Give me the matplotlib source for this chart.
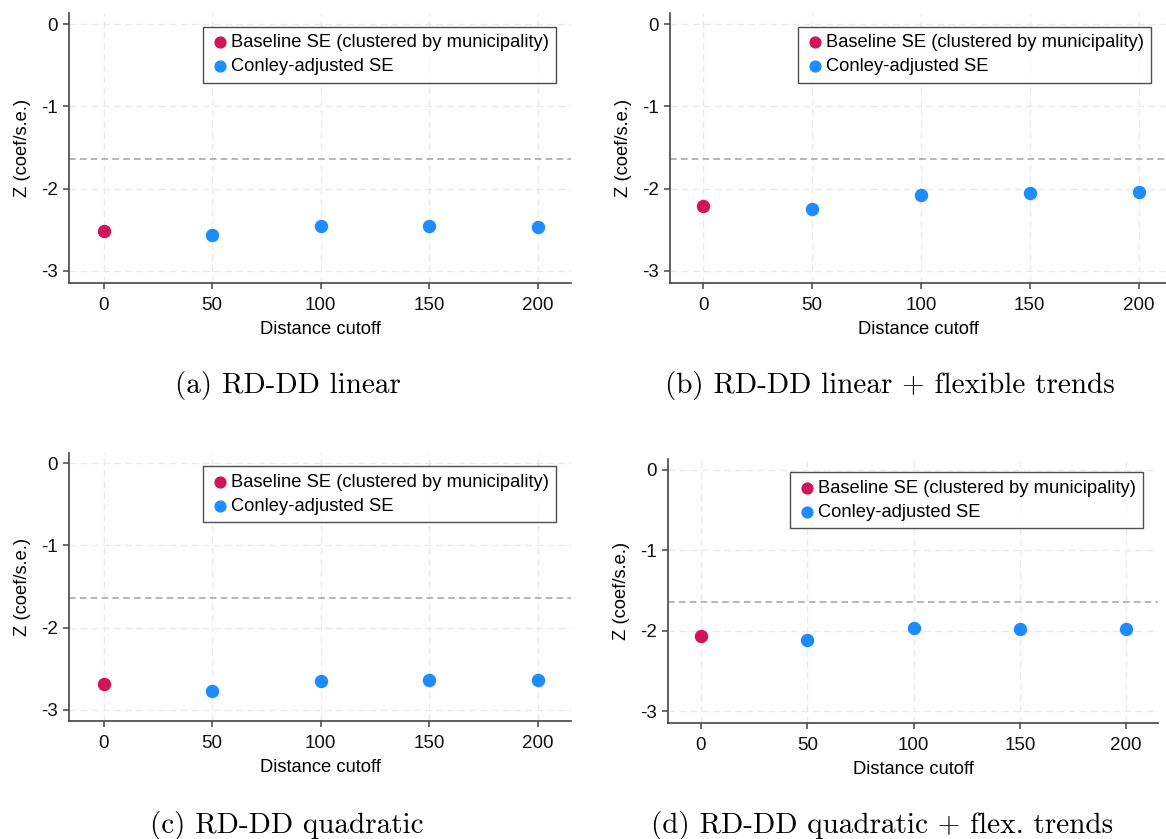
import numpy as np
import matplotlib.pyplot as plt

plt.rcParams['font.family'] = ['Liberation Sans', 'DejaVu Sans']

# distance cutoffs (0 = baseline clustered SE)
cutoffs = [0, 50, 100, 150, 200]

# z statistics
z_linear = [-2.51, -2.56, -2.45, -2.45, -2.46]
z_linear_flex = [-2.21, -2.25, -2.08, -2.05, -2.04]
z_quad = [-2.69, -2.77, -2.655, -2.64, -2.64]
z_quad_flex = [-2.07, -2.11, -1.97, -1.98, -1.98]

captions = ['(a) RD-DD linear',
            '(b) RD-DD linear + flexible trends',
            '(c) RD-DD quadratic',
            '(d) RD-DD quadratic + flex. trends']
series = [z_linear, z_linear_flex, z_quad, z_quad_flex]

W, H = 1166, 839
# panel boxes in pixels: left, right, top, bottom, xlim, ylim
panels = [
    (69, 571, 13, 283, (-15.9, 215.4), (-3.146, 0.134)),
    (670, 1166, 13, 283, (-15.3, 212.6), (-3.146, 0.134)),
    (69, 571, 453, 721, (-15.9, 215.4), (-3.137, 0.125)),
    (668, 1158, 459, 723, (-15.5, 215.0), (-3.146, 0.133)),
]
cap_pos = [(288, 385), (890, 385), (287, 826), (882, 826)]

red = '#d2145a'
blue = '#1e8cff'

fig = plt.figure(figsize=(W / 100, H / 100), dpi=100)

for i, (l, r, t, b, xl, yl) in enumerate(panels):
    ax = fig.add_axes([l / W, 1 - b / H, (r - l) / W, (b - t) / H])
    z = series[i]
    ax.axhline(-1.645, color='#aaaaaa', ls=(0, (4, 2.5)), lw=1.2, zorder=1)
    ax.scatter(cutoffs[:1], z[:1], s=75, color=red, zorder=3,
               label='Baseline SE (clustered by municipality)')
    ax.scatter(cutoffs[1:], z[1:], s=75, color=blue, zorder=3,
               label='Conley-adjusted SE')
    ax.set_xlim(*xl)
    ax.set_ylim(*yl)
    ax.set_xticks(cutoffs)
    ax.set_yticks([0, -1, -2, -3])
    ax.set_yticklabels(['0', '-1', '-2', '-3'])
    ax.grid(True, color='#ebebeb', ls=(0, (5, 3)), lw=1.0)
    ax.set_axisbelow(True)
    for s in ['top', 'right']:
        ax.spines[s].set_visible(False)
    for s in ['left', 'bottom']:
        ax.spines[s].set_color('#444444')
        ax.spines[s].set_linewidth(1.2)
    ax.tick_params(length=4, width=1.1, color='#444444', labelsize=13.5,
                   labelcolor='#111111', pad=4)
    ax.tick_params(axis='x', pad=6)
    ax.set_xlabel('Distance cutoff', fontsize=13.2, labelpad=5)
    ax.set_ylabel('Z (coef/s.e.)', fontsize=13.2, labelpad=7)
    leg = ax.legend(loc='upper right', bbox_to_anchor=(0.97, 0.95),
                    borderaxespad=0, fontsize=13.2, frameon=True, fancybox=False,
                    handletextpad=0.1, handlelength=1.0, borderpad=0.4,
                    labelspacing=0.4, scatterpoints=1, markerscale=0.9)
    leg.get_frame().set_edgecolor('#222222')
    leg.get_frame().set_linewidth(1.0)
    cx, cy = cap_pos[i]
    fig.text(cx / W, 1 - cy / H, captions[i], ha='center', va='center',
             fontsize=21, family='cmr10')

fig.savefig('out.png', dpi=100)
